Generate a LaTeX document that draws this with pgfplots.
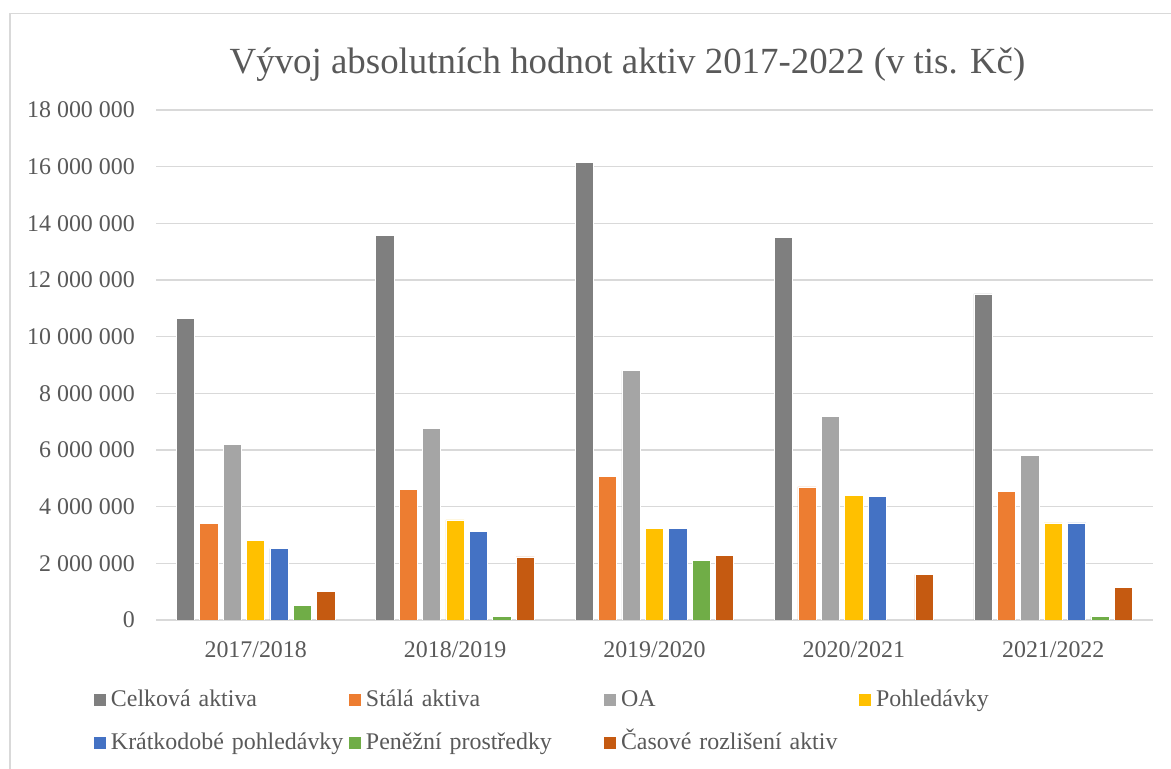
\documentclass[border=0pt]{standalone}
\usepackage{fontspec}
\setmainfont{Liberation Serif}
\usepackage{pgfplots}
\usepackage{pgfplotstable}
\pgfplotsset{compat=1.18}
\definecolor{cCel}{HTML}{7F7F7F}
\definecolor{cSta}{HTML}{ED7D31}
\definecolor{cOA}{HTML}{A5A5A5}
\definecolor{cPoh}{HTML}{FFC000}
\definecolor{cKra}{HTML}{4472C4}
\definecolor{cPen}{HTML}{70AD47}
\definecolor{cCas}{HTML}{C55A11}
\definecolor{txt}{HTML}{595959}
\definecolor{gridg}{HTML}{D9D9D9}
\pgfplotstableread{
x Cel Sta OA Poh Kra Pen Cas
0 10640000 3400000 6200000 2810000 2520000 510000 1020000
1 13560000 4610000 6750000 3530000 3130000 140000 2230000
2 16140000 5070000 8800000 3230000 3230000 2090000 2270000
3 13490000 4700000 7180000 4390000 4350000 nan 1600000
4 11510000 4530000 5810000 3430000 3430000 140000 1160000
}\data
\begin{document}
\begin{tikzpicture}[x=1bp,y=1bp]
\useasboundingbox (0,0) rectangle (1171,769);
\fill[white] (0,0) rectangle (1171,769);
\draw[gridg, line width=1.5bp] (10,-10) -- (10,755.5) -- (1190,755.5);
\node[anchor=base, text=txt, font=\fontsize{37}{44}\selectfont, inner sep=0pt] at (627.5,695) {Vývoj absolutních hodnot aktiv 2017-2022 (v tis. Kč)};
\begin{axis}[
  at={(156bp,149bp)}, anchor=south west,
  scale only axis, width=997bp, height=510bp,
  xmin=-0.5, xmax=4.5, ymin=0, ymax=18000000,
  ybar=5.2bp, bar width=18.2bp,
  axis x line*=bottom, axis y line*=left,
  x axis line style={-, draw=gridg, line width=1.5bp},
  y axis line style={draw=none},
  major tick length=0pt,
  ymajorgrids, grid style={gridg, line width=1.5bp},
  scaled y ticks=false,
  xtick={0,1,2,3,4},
  xticklabels={2017/2018,2018/2019,2019/2020,2020/2021,2021/2022},
  ytick={0,2000000,4000000,6000000,8000000,10000000,12000000,14000000,16000000,18000000},
  yticklabels={0,{2 000 000},{4 000 000},{6 000 000},{8 000 000},{10 000 000},{12 000 000},{14 000 000},{16 000 000},{18 000 000}},
  ticklabel style={text=txt, font=\fontsize{24}{28}\selectfont, inner sep=0pt},
  yticklabel style={anchor=east, xshift=-21bp},
  xticklabel style={anchor=base, yshift=-38bp},
  legend columns=4,
  legend cell align=left,
  legend style={at={(-0.06219,-0.13725)}, anchor=north west, draw=none, fill=none,
    inner sep=0pt, outer sep=0pt, column sep=0pt, row sep=21bp,
    font=\fontsize{24}{28}\selectfont, text=txt,
    nodes={inner sep=0pt, text width=238bp, text height=17bp, text depth=5bp, align=left}},
  legend image code/.code={\fill[#1, draw=none] (0bp,-5bp) rectangle (12bp,7bp); \path[draw=none, fill=none] (0bp,1bp) -- (17bp,1bp);},
  every axis plot/.append style={draw=white, line width=0.6bp},
]
\addplot[fill=cCel] table[x=x,y=Cel]{\data};
\addplot[fill=cSta] table[x=x,y=Sta]{\data};
\addplot[fill=cOA] table[x=x,y=OA]{\data};
\addplot[fill=cPoh] table[x=x,y=Poh]{\data};
\addplot[fill=cKra] table[x=x,y=Kra]{\data};
\addplot[fill=cPen] table[x=x,y=Pen]{\data};
\addplot[fill=cCas] table[x=x,y=Cas]{\data};
\legend{Celková aktiva,Stálá aktiva,OA,Pohledávky,Krátkodobé pohledávky,Peněžní prostředky,Časové rozlišení aktiv}
\end{axis}
\end{tikzpicture}
\end{document}
